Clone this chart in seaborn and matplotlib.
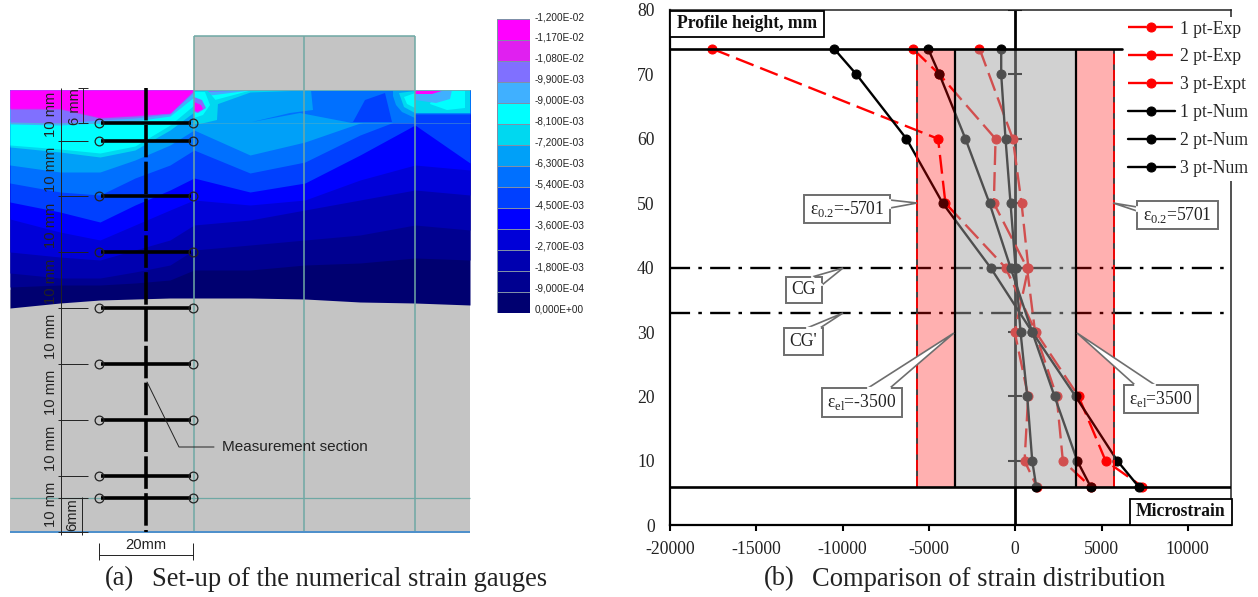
import numpy as np
import pandas as pd
import matplotlib
matplotlib.use("Agg")
import matplotlib.pyplot as plt
from matplotlib.colors import ListedColormap
from matplotlib.patches import Polygon
import seaborn as sns

W, H = 1258, 597

# strain readings (microstrain) per profile height (mm)
HEIGHT_FULL = [74, 70, 60, 50, 40, 30, 20, 10, 6]
HEIGHT_SHORT = [74, 60, 50, 40, 30, 20, 10, 6]
EXP1 = [-17575, -4470, -4043, -563, 1190, 3670, 5238, 7366]
EXP2 = [-5940, -4390, -1140, -1240, 680, 1150, 2400, 2760, 4367]
EXP3 = [-2070, -139, 366, 760, -30, 750, 540, 1250]
NUM1 = [-10500, -9200, -6300, -4200, -1430, 985, 3500, 5916, 7150]
NUM2 = [-5050, -4390, -2883, -1490, -273, 985, 2280, 3595, 4367]
NUM3 = [-813, -813, -563, -273, 20, 307, 696, 985, 1218]

EPS_02 = 5701
EPS_EL = 3500
WEB_TOP = 74
WEB_BOTTOM = 6
CG = 40
CG_PRIME = 33

# contour legend
STRAIN_LABELS = ["-1,200E-02", "-1,170E-02", "-1,080E-02", "-9,900E-03", "-9,000E-03",
                 "-8,100E-03", "-7,200E-03", "-6,300E-03", "-5,400E-03", "-4,500E-03",
                 "-3,600E-03", "-2,700E-03", "-1,800E-03", "-9,000E-04", "0,000E+00"]
BAND_COLORS = ["#ff00ff", "#e020f0", "#8070ff", "#40b0ff", "#00ffff", "#00d8f0", "#00a0f8",
               "#0070ff", "#0040ff", "#0000ff", "#0000d8", "#0000b0", "#000090", "#000070"]

# band lower edges in the section view (picture pixels), one list per colour
KNOT_X = [10, 60, 100, 135, 170, 194, 250, 305, 360, 415, 470]
BAND_EDGES = [
    [108, 108, 117, 115, 113, 90, 90, 90, 90, 90, 90],
    [109, 109, 118, 116, 113, 90, 90, 90, 90, 90, 90],
    [122, 123, 120, 118, 114, 92, 90, 90, 90, 90, 90],
    [124, 125, 123, 121, 116, 97, 90, 90, 90, 90, 90],
    [145, 149, 153, 146, 125, 105, 90, 90, 90, 90, 90],
    [147, 152, 157, 150, 130, 112, 92, 90, 90, 90, 90],
    [165, 172, 172, 160, 145, 130, 155, 142, 123, 113, 113],
    [183, 192, 195, 178, 165, 150, 173, 162, 135, 114, 114],
    [202, 212, 222, 205, 190, 178, 192, 183, 155, 125, 163],
    [219, 232, 240, 225, 210, 200, 205, 200, 180, 165, 170],
    [252, 257, 260, 250, 240, 225, 220, 210, 200, 190, 195],
    [273, 278, 278, 272, 265, 250, 245, 240, 235, 225, 230],
    [287, 285, 285, 283, 280, 270, 270, 265, 263, 258, 260],
    [308, 303, 300, 299, 298, 298, 298, 299, 302, 303, 305],
]
# local patches over the bands: colour index, outline
CONTOUR_PATCHES = [
    (7, [(252, 122), (290, 113), (313, 110), (311, 90), (415, 90), (415, 123), (352, 123), (300, 113)]),
    (8, [(353, 122), (365, 100), (385, 93), (392, 122)]),
    (5, [(194, 91), (208, 91), (218, 103), (217, 120), (200, 124), (194, 124)]),
    (4, [(194, 92), (205, 92), (210, 105), (203, 115), (194, 118)]),
    (2, [(194, 97), (202, 100), (206, 108), (198, 113), (194, 112)]),
    (0, [(194, 102), (201, 105), (203, 109), (197, 112), (194, 110)]),
    (6, [(393, 90), (415, 90), (415, 118), (402, 112), (396, 105), (393, 96)]),
    (5, [(399, 93), (415, 91), (415, 113), (404, 107)]),
    (4, [(404, 97), (415, 93), (415, 108), (407, 104)]),
    (5, [(415, 90), (470, 90), (470, 113), (415, 113)]),
    (4, [(435, 90), (465, 90), (465, 108), (447, 110), (430, 104)]),
    (3, [(415, 93), (452, 90), (450, 99), (436, 103), (415, 100)]),
    (0, [(415, 90), (445, 90), (432, 94), (415, 94)]),
]

GAUGE_Y = [123, 141, 196, 252, 308, 364, 420, 476, 498]
DIM_TEXT_Y = [114, 169, 225, 281, 336, 392, 448, 504]

sns.set_theme(style="white")
plt.rcParams["font.family"] = ["Liberation Serif", "DejaVu Sans"]
plt.rcParams["mathtext.fontset"] = "custom"
plt.rcParams["mathtext.rm"] = "Liberation Serif"
plt.rcParams["axes.unicode_minus"] = False

fig = plt.figure(figsize=(W / 100, H / 100), dpi=100, facecolor="white")

# strain distribution chart
ax = fig.add_axes([670 / W, 1 - 525.3 / H, (1231 - 670) / W, (525.3 - 10) / H])
ax.set_xlim(-20000, 12500)
ax.set_ylim(0, 80)
ax.axhline(CG, color="black", lw=1.7, ls=(0, (8.5, 3.5, 1.5, 3.5)), zorder=1)
ax.axhline(CG_PRIME, color="black", lw=1.7, ls=(0, (8.5, 3.5, 1.5, 3.5)), zorder=1)
ax.axvline(0, color="black", lw=2, zorder=1)
ax.plot(np.zeros(8), np.arange(10, 90, 10), ls="none", marker="_", ms=10, mew=1.5, color="black", zorder=1)

RED_DASH = (0, (8, 3))
for name, xs, ys in [("1 pt-Exp", EXP1, HEIGHT_SHORT), ("2 pt-Exp", EXP2, HEIGHT_FULL), ("3 pt-Expt", EXP3, HEIGHT_SHORT)]:
    df = pd.DataFrame({"strain": xs, "height": ys})
    sns.lineplot(data=df, x="strain", y="height", orient="y", sort=False, estimator=None, ax=ax,
                 color="#ff0000", lw=1.7, linestyle=RED_DASH, marker="o", ms=6.5, mec="#ff0000", label=name, zorder=2)
for name, xs in [("1 pt-Num", NUM1), ("2 pt-Num", NUM2), ("3 pt-Num", NUM3)]:
    df = pd.DataFrame({"strain": xs, "height": HEIGHT_FULL})
    sns.lineplot(data=df, x="strain", y="height", orient="y", sort=False, estimator=None, ax=ax,
                 color="black", lw=1.7, marker="o", ms=6.5, mec="black", label=name, zorder=3)

# yield and elastic zones sit over the curves
ax.fill_betweenx([WEB_BOTTOM, WEB_TOP], -EPS_EL, EPS_EL, color="#a3a3a3", alpha=0.49, lw=0, zorder=4)
ax.fill_betweenx([WEB_BOTTOM, WEB_TOP], -EPS_02, -EPS_EL, color="#ff0000", alpha=0.31, lw=0, zorder=4)
ax.fill_betweenx([WEB_BOTTOM, WEB_TOP], EPS_EL, EPS_02, color="#ff0000", alpha=0.31, lw=0, zorder=4)
ax.vlines([-EPS_EL, EPS_EL], WEB_BOTTOM, WEB_TOP, color="black", lw=1.6, zorder=5)
ax.vlines([-EPS_02, EPS_02], WEB_BOTTOM, WEB_TOP, color="#333333", lw=1.3, zorder=5)
ax.vlines([-EPS_02, EPS_02], WEB_BOTTOM, WEB_TOP, color="#ff0000", lw=1.3, linestyles=[(0, (6, 3))], zorder=5)
ax.plot([-20000, 6200], [WEB_TOP, WEB_TOP], color="black", lw=1.9, zorder=6)
ax.plot([-20000, 12500], [WEB_BOTTOM, WEB_BOTTOM], color="black", lw=1.9, zorder=6)

ax.set_xlabel("")
ax.set_ylabel("")
ax.set_xticks(np.arange(-20000, 15000, 5000))
ax.set_xticklabels([str(v) for v in range(-20000, 15000, 5000)])
ax.set_yticks(np.arange(0, 90, 10))
ax.tick_params(axis="x", direction="out", length=4, width=1.5, color="black", labelsize=12.7, pad=7.5, labelcolor="#222222", bottom=True)
ax.tick_params(axis="y", length=0, labelsize=12.7, pad=11, labelcolor="#222222")
for side in ["left", "bottom"]:
    ax.spines[side].set_linewidth(1.6)
    ax.spines[side].set_color("black")
for side in ["top", "right"]:
    ax.spines[side].set_linewidth(1.1)
    ax.spines[side].set_color("#222222")

leg = ax.legend(loc="upper left", bbox_to_anchor=(1124 / W, 1 - 17 / H), bbox_transform=fig.transFigure,
                frameon=True, framealpha=1, facecolor="white", edgecolor="none", fontsize=12.7,
                handlelength=2.7, handletextpad=0.3, labelspacing=0.62, borderpad=0.2, borderaxespad=0, fancybox=False)
leg.set_zorder(10)

# colour scale beside the section view
ax_scale = fig.add_axes([497 / W, 1 - 313 / H, 33 / W, 294 / H])
sns.heatmap(np.arange(len(BAND_COLORS)).reshape(-1, 1), ax=ax_scale, cmap=ListedColormap(BAND_COLORS), cbar=False,
            xticklabels=False, yticklabels=False, linewidths=0.4, linecolor="#7f8fa8")

# section view and all callouts use picture pixels
ov = fig.add_axes([0, 0, 1, 1], facecolor="none")
ov.set_xlim(0, W)
ov.set_ylim(H, 0)
ov.axis("off")
ov.set_zorder(8)

ov.fill_between([10, 470], 290, 531, color="#c4c4c4", lw=0, zorder=1)
ov.fill_between([194, 415], 36, 90, color="#c4c4c4", lw=0, zorder=1)
# paint darkest first, each band from the flange top, so no seams show between bands
for band, edge in reversed(list(zip(BAND_COLORS, BAND_EDGES))):
    ov.fill_between(KNOT_X, 90, edge, color=band, lw=0, zorder=2)
for idx, pts in CONTOUR_PATCHES:
    ov.add_patch(Polygon(pts, closed=True, fc=BAND_COLORS[idx], ec="none", zorder=3))

TEAL = "#6fa8a4"
ov.vlines([194, 304, 415], 36, 531, color=TEAL, lw=1.1, zorder=4)
ov.hlines(36, 194, 415, color=TEAL, lw=1.1, zorder=4)
ov.hlines(90, 194, 470, color="#66b0b8", lw=0.7, zorder=4)
ov.hlines(123, 10, 470, color="#66b0b8", lw=0.5, alpha=0.6, zorder=4)
ov.hlines(498, 10, 470, color=TEAL, lw=0.9, zorder=4)
ov.hlines(531.5, 10, 470, color="#3d85c6", lw=1.3, zorder=4)

# gauges
ov.vlines(146, 88, 532, color="black", lw=2.6, linestyles=[(0, (9, 1.2))], zorder=6)
ov.hlines(GAUGE_Y, 101, 191, color="black", lw=2.6, zorder=6)
ov.plot([99] * len(GAUGE_Y), GAUGE_Y, ls="none", marker="o", ms=6.3, mfc="none", mec="#222222", mew=0.9, zorder=7)
ov.plot([193] * len(GAUGE_Y), GAUGE_Y, ls="none", marker="o", ms=6.3, mfc="none", mec="#222222", mew=0.9, zorder=7)

# dimensions
ov.vlines(61, 88, 535, color="#222222", lw=0.7, zorder=5)
ov.hlines(GAUGE_Y[1:8] + [498, 532], 58, 88, color="#222222", lw=0.7, zorder=5)
ov.vlines(83, 88, 123, color="#222222", lw=0.7, zorder=5)
ov.hlines([88, 123], 78, 88, color="#222222", lw=0.7, zorder=5)
ov.vlines(82, 497, 535, color="#222222", lw=0.7, zorder=5)
for y in DIM_TEXT_Y:
    ov.text(51, y, "10 mm", rotation=90, family="Liberation Sans", fontsize=10.6, color="#222222", ha="center", va="center", zorder=6)
ov.text(75, 107, "6 mm", rotation=90, family="Liberation Sans", fontsize=10.6, color="#222222", ha="center", va="center", zorder=6)
ov.text(72, 515, "6mm", rotation=90, family="Liberation Sans", fontsize=10.6, color="#222222", ha="center", va="center", zorder=6)
ov.plot([99, 193], [555, 555], color="#222222", lw=0.7)
ov.vlines([99, 193], 543, 560, color="#222222", lw=0.7)
ov.text(146, 545, "20mm", family="Liberation Sans", fontsize=10.6, color="#222222", ha="center", va="center")
ov.plot([147, 179, 214], [382, 447, 447], color="#222222", lw=0.7, zorder=6)
ov.text(222, 447, "Measurement section", family="Liberation Sans", fontsize=10.95, color="#222222", va="center", zorder=6)

for i, label in enumerate(STRAIN_LABELS):
    ov.text(535, 17 + i * 20.9, label, family="Liberation Sans", fontsize=7.2, color="#222222", va="center")

# callouts
GREY = "#6e6e6e"
CALLOUTS = [
    ("ε$_{\\mathrm{0.2}}$=-5701", (804, 195, 890, 223), [(890, 200), (917, 203), (890, 208)]),
    ("ε$_{\\mathrm{0.2}}$=5701", (1137, 201, 1218, 229), [(1137, 207), (1113, 203), (1137, 211)]),
    ("CG", (786, 277, 822, 303), [(812, 277), (843, 268), (822, 285)]),
    ("CG'", (784, 328, 823, 355), [(807, 328), (843, 313), (820, 328)]),
    ("ε$_{\\mathrm{el}}$=-3500", (822, 388, 902, 417), [(868, 388), (954, 333), (890, 388)]),
    ("ε$_{\\mathrm{el}}$=3500", (1124, 385, 1198, 413), [(1135, 385), (1077, 333), (1155, 385)]),
]
for text, (x0, y0, x1, y1), tip in CALLOUTS:
    ov.add_patch(Polygon(tip, closed=True, fc="white", ec=GREY, lw=1.2, zorder=8))
    ov.add_patch(Polygon([(x0, y0), (x1, y0), (x1, y1), (x0, y1)], closed=True, fc="white", ec=GREY, lw=1.4, zorder=9))
    ov.plot([tip[0][0], tip[2][0]], [tip[0][1], tip[2][1]], color="white", lw=1.6, zorder=10)
    ov.text((x0 + x1) / 2, (y0 + y1) / 2, text, fontsize=12.7, color="#222222", ha="center", va="center", zorder=11)

for text, (x0, y0, x1, y1) in [("Profile height, mm", (670, 11, 824, 37)), ("Microstrain", (1130, 499, 1232, 525))]:
    ov.add_patch(Polygon([(x0, y0), (x1, y0), (x1, y1), (x0, y1)], closed=True, fc="white", ec="black", lw=1.3, zorder=9))
    ov.text((x0 + x1) / 2, (y0 + y1) / 2, text, fontsize=12.7, fontweight="bold", color="#111111", ha="center", va="center", zorder=11)

# captions
ov.text(105, 579, "(a)", fontsize=19.1, color="#222222", va="center")
ov.text(152, 579, "Set-up of the numerical strain gauges", fontsize=19.1, color="#222222", va="center")
ov.text(764, 579, "(b)", fontsize=19.1, color="#222222", va="center")
ov.text(812, 579, "Comparison of strain distribution", fontsize=19.1, color="#222222", va="center")

fig.savefig("out.png", dpi=100)
